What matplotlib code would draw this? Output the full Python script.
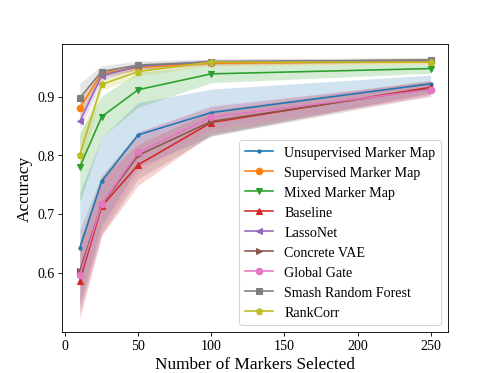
import numpy as np
import matplotlib
matplotlib.use("Agg")
import matplotlib.pyplot as plt

plt.rcParams['font.family'] = ['Liberation Serif', 'DejaVu Serif']

n_markers = [10, 25, 50, 100, 250]

# mean accuracy per method
unsup_mm = [0.642, 0.756, 0.835, 0.873, 0.922]
sup_mm = [0.881, 0.940, 0.950, 0.957, 0.960]
mixed_mm = [0.780, 0.866, 0.912, 0.939, 0.948]
baseline = [0.586, 0.713, 0.784, 0.856, 0.916]
lassonet = [0.858, 0.936, 0.952, 0.960, 0.962]
concrete_vae = [0.603, 0.716, 0.800, 0.858, 0.914]
global_gate = [0.595, 0.717, 0.805, 0.865, 0.912]
smash_rf = [0.898, 0.943, 0.954, 0.959, 0.963]
rankcorr = [0.801, 0.921, 0.943, 0.959, 0.959]

# standard deviation per method
unsup_sd = [0.095, 0.075, 0.055, 0.040, 0.015]
sup_sd = [0.015, 0.006, 0.005, 0.004, 0.003]
mixed_sd = [0.060, 0.035, 0.030, 0.015, 0.008]
baseline_sd = [0.065, 0.050, 0.035, 0.020, 0.012]
lassonet_sd = [0.015, 0.008, 0.005, 0.004, 0.003]
concrete_sd = [0.070, 0.050, 0.040, 0.025, 0.013]
gate_sd = [0.055, 0.045, 0.035, 0.020, 0.012]
smash_sd = [0.025, 0.010, 0.007, 0.005, 0.004]
rankcorr_sd = [0.030, 0.010, 0.008, 0.005, 0.004]

labels = ['Unsupervised Marker Map', 'Supervised Marker Map', 'Mixed Marker Map',
          'Baseline', 'LassoNet', 'Concrete VAE', 'Global Gate',
          'Smash Random Forest', 'RankCorr']
means = [unsup_mm, sup_mm, mixed_mm, baseline, lassonet, concrete_vae,
         global_gate, smash_rf, rankcorr]
sds = [unsup_sd, sup_sd, mixed_sd, baseline_sd, lassonet_sd, concrete_sd,
       gate_sd, smash_sd, rankcorr_sd]
markers = ['.', 'o', 'v', '^', '<', '>', 'o', 's', 'p']

fig, ax = plt.subplots(figsize=(6.4, 4.8), dpi=77.8)
x = np.array(n_markers)
for i, (lab, m, s, mk) in enumerate(zip(labels, means, sds, markers)):
    m = np.array(m)
    s = np.array(s)
    col = 'C%d' % i
    ax.plot(x, m, marker=mk, color=col, label=lab, linewidth=1.5)
    ax.fill_between(x, m - s, m + s, color=col, alpha=0.2, linewidth=0)

ax.set_xlabel('Number of Markers Selected', fontsize=16)
ax.set_ylabel('Accuracy', fontsize=16)
ax.tick_params(labelsize=13)
ax.set_yticks([0.6, 0.7, 0.8, 0.9])
ax.legend(loc='lower right', fontsize=13)

fig.savefig('out.png', dpi=77.8)
